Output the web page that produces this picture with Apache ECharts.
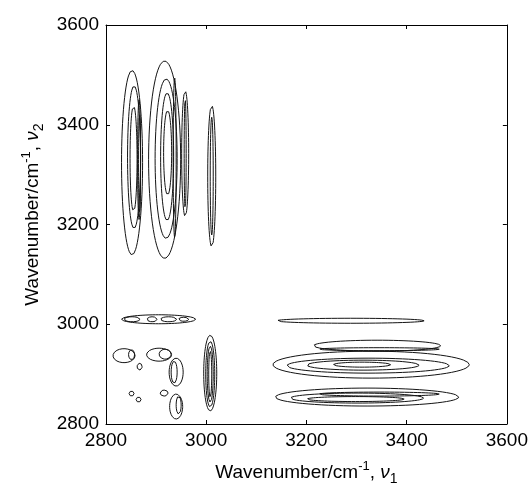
<!DOCTYPE html>
<html>
<head>
<meta charset="utf-8">
<script src="https://cdn.jsdelivr.net/npm/echarts@6/dist/echarts.min.js"></script>
<style>
  html, body { margin: 0; padding: 0; background: #fff; }
  #chart { width: 531px; height: 491px; }
</style>
</head>
<body>
<div id="chart"></div>
<script>
// Axis ticks (wavenumber, cm-1)
var xTicks = [2800, 3000, 3200, 3400, 3600];
var yTicks = [2800, 3000, 3200, 3400, 3600];

// Contour loops: [nu1 centre, nu2 centre, nu1 half-width, nu2 half-width]
// Cross peaks above the diagonal (nu1 ~2830-3020, nu2 ~3130-3530)
var contoursUpperLeft = [
  [2852, 3324, 21, 185], [2856, 3335, 13, 143], [2855, 3332, 7, 106],
  [2866, 3330, 3, 120], [2867, 3322, 2, 100],
  [2917, 3330, 32, 198], [2920, 3332, 22, 160], [2922, 3336, 13, 128],
  [2923, 3344, 8, 85], [2937, 3334, 3, 160],
  [2958, 3342, 7, 126], [2958, 3342, 2, 110],
  [3011, 3297, 8, 142], [3011, 3297, 3, 118]
];
// Auto-peak region (nu1, nu2 ~2800-3020)
var contoursLowerLeft = [
  [2905, 3010, 74, 9], [2852, 3010, 16, 5], [2892, 3010, 10, 5],
  [2925, 3010, 16, 5], [2955, 3010, 10, 4],
  [2836, 2937, 22, 14], [2851, 2939, 6, 10],
  [2867, 2915, 5, 7],
  [2906, 2939, 25, 13], [2918, 2940, 12, 10],
  [2940, 2904, 14, 28], [2936, 2904, 6, 22],
  [2851, 2861, 5, 5], [2865, 2849, 5, 5], [2916, 2862, 8, 6],
  [2940, 2835, 13, 25], [2945, 2838, 5, 18],
  [3008, 2902, 13, 76], [3008, 2900, 9, 66], [3008, 2900, 6, 56], [3008, 2900, 3, 46]
];
// Cross peaks below the diagonal (nu1 ~3130-3530, nu2 ~2830-3010)
var contoursLowerRight = [
  [3288, 3007, 147, 5],
  [3341, 2957, 127, 11], [3345, 2950, 120, 3],
  [3329, 2919, 196, 27], [3323, 2917, 162, 15], [3313, 2918, 112, 10], [3311, 2919, 57, 5],
  [3321, 2854, 183, 18], [3301, 2852, 133, 10], [3345, 2860, 120, 4], [3298, 2850, 97, 5]
];

function loop(c) {
  var pts = [];
  var n = 72;
  for (var i = 0; i <= n; i++) {
    var t = 2 * Math.PI * i / n;
    pts.push([c[0] + c[2] * Math.cos(t), c[1] + c[3] * Math.sin(t)]);
  }
  return pts;
}

var series = [];
[contoursUpperLeft, contoursLowerLeft, contoursLowerRight].forEach(function (group) {
  group.forEach(function (c) {
    series.push({
      type: 'line',
      data: loop(c),
      showSymbol: false,
      symbol: 'none',
      silent: true,
      animation: false,
      smooth: false,
      lineStyle: { color: '#141414', width: 1 },
      xAxisIndex: 0,
      yAxisIndex: 0
    });
  });
});

var chart = echarts.init(document.getElementById('chart'), null, { renderer: 'canvas' });
var fontFam = 'Liberation Sans, Arial, sans-serif';
var rich = {
  sup: { fontSize: 13, verticalAlign: 'top', padding: [0, 0, 12, 0], fontFamily: fontFam, color: '#000' },
  nu: { fontSize: 19, fontStyle: 'italic', fontFamily: fontFam, color: '#000' },
  sub: { fontSize: 14, padding: [12, 0, 0, 0], fontFamily: fontFam, color: '#000' }
};

function baseAxis(pos, showLabels, name, gap, rot, pad) {
  return {
    type: 'value',
    position: pos,
    min: 2800, max: 3600, interval: 200,
    axisLine: { show: true, lineStyle: { color: '#000', width: 1 } },
    axisTick: { show: true, inside: true, length: 4, lineStyle: { color: '#000' } },
    axisLabel: {
      show: showLabels, color: '#000', fontSize: 19, fontFamily: fontFam,
      margin: 7,
      formatter: function (v) { return (xTicks.indexOf(v) >= 0) ? String(v) : ''; }
    },
    splitLine: { show: false },
    name: name,
    nameLocation: 'middle',
    nameGap: gap,
    nameRotate: rot,
    nameTextStyle: { color: '#000', fontSize: 19, fontFamily: fontFam, rich: rich, padding: pad || 0 }
  };
}

chart.setOption({
  backgroundColor: '#fff',
  animation: false,
  grid: { left: 106, right: 24, top: 25, bottom: 64, containLabel: false },
  xAxis: [
    baseAxis('bottom', true, 'Wavenumber/cm{sup|-1}, {nu|\u03BD}{sub|1}', 36, 0),
    baseAxis('top', false, '', 0, 0)
  ],
  yAxis: [
    baseAxis('left', true, 'Wavenumber/cm{sup|-1}, {nu|\u03BD}{sub|2}', 58, 90, [0, 0, 0, 20]),
    baseAxis('right', false, '', 0, 0)
  ],
  series: series
});
</script>
</body>
</html>
